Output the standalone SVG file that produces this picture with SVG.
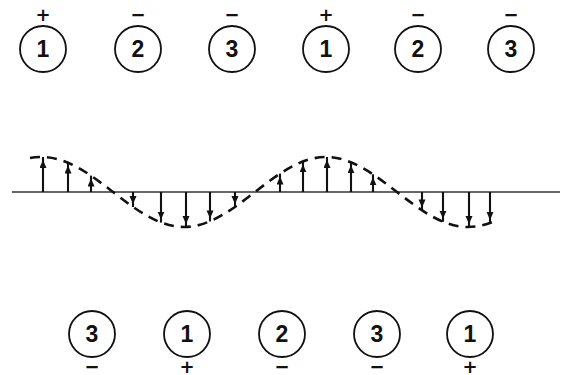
<svg xmlns="http://www.w3.org/2000/svg" width="561" height="375" viewBox="0 0 561 375">
<style>
.c{fill:none;stroke:#111;stroke-width:1.8}
.n{font-family:"Liberation Sans",Arial,sans-serif;font-weight:bold;font-size:23px;fill:#111;text-anchor:middle;dominant-baseline:central}
.s{font-family:"DejaVu Sans",sans-serif;font-weight:bold;font-size:18px;fill:#111;text-anchor:middle;dominant-baseline:central}
.base{stroke:#333;stroke-width:1.4;fill:none}
.wave{stroke:#111;stroke-width:2.6;fill:none;stroke-dasharray:10 7}
.ar{stroke:#111;stroke-width:2.1;marker-end:url(#ah)}
</style>
<defs>
<marker id="ah" markerUnits="userSpaceOnUse" markerWidth="14" markerHeight="8" refX="11" refY="3.5" orient="auto">
<path d="M0,0 L8,3.5 L0,7 z" fill="#111"/>
</marker>
</defs>
<g id="top-1a"><text class="s" x="43" y="14">+</text><circle class="c" cx="43" cy="49" r="23"/><text class="n" x="43" y="49">1</text></g>
<g id="top-2a"><text class="s" x="138" y="14">−</text><circle class="c" cx="138" cy="49" r="23"/><text class="n" x="138" y="49">2</text></g>
<g id="top-3a"><text class="s" x="232" y="14">−</text><circle class="c" cx="232" cy="49" r="23"/><text class="n" x="232" y="49">3</text></g>
<g id="top-1b"><text class="s" x="326" y="14">+</text><circle class="c" cx="326" cy="49" r="23"/><text class="n" x="326" y="49">1</text></g>
<g id="top-2b"><text class="s" x="418" y="14">−</text><circle class="c" cx="418" cy="49" r="23"/><text class="n" x="418" y="49">2</text></g>
<g id="top-3b"><text class="s" x="511" y="14">−</text><circle class="c" cx="511" cy="49" r="23"/><text class="n" x="511" y="49">3</text></g>
<g id="bot-3a"><circle class="c" cx="92" cy="334" r="23"/><text class="n" x="92" y="334">3</text><text class="s" x="92" y="366">−</text></g>
<g id="bot-1a"><circle class="c" cx="187" cy="334" r="23"/><text class="n" x="187" y="334">1</text><text class="s" x="187" y="366">+</text></g>
<g id="bot-2"><circle class="c" cx="282" cy="334" r="23"/><text class="n" x="282" y="334">2</text><text class="s" x="282" y="366">−</text></g>
<g id="bot-3b"><circle class="c" cx="377" cy="334" r="23"/><text class="n" x="377" y="334">3</text><text class="s" x="377" y="366">−</text></g>
<g id="bot-1b"><circle class="c" cx="470" cy="334" r="23"/><text class="n" x="470" y="334">1</text><text class="s" x="470" y="366">+</text></g>
<g id="connectors">
<line class="base" x1="12" y1="192" x2="560" y2="192"/>
<path class="wave" d="M30,158 C34,157.3 38,157 42,157 C67.1,157 89.85,174.1 113,192 C136.15,209.9 158.9,227 184,227 C209.1,227 231.85,209.9 255,192 C278.15,174.1 300.9,157 326,157 C351.1,157 373.850,174.1 397,192 C420.15,209.9 442.9,227 468,227 C478,227 488,224.5 497,220"/>
<line class="ar" x1="43" y1="192" x2="43" y2="157"/>
<line class="ar" x1="68" y1="192" x2="68" y2="162.6"/>
<line class="ar" x1="91" y1="192" x2="91" y2="175.6"/>
<line class="ar" x1="133" y1="192" x2="133" y2="207"/>
<line class="ar" x1="161" y1="192" x2="161" y2="222.6"/>
<line class="ar" x1="186" y1="192" x2="186" y2="227"/>
<line class="ar" x1="210" y1="192" x2="210" y2="221.4"/>
<line class="ar" x1="235" y1="192" x2="235" y2="207"/>
<line class="ar" x1="280" y1="192" x2="280" y2="173.6"/>
<line class="ar" x1="303" y1="192" x2="303" y2="161.4"/>
<line class="ar" x1="327" y1="192" x2="327" y2="157"/>
<line class="ar" x1="351" y1="192" x2="351" y2="162.2"/>
<line class="ar" x1="373" y1="192" x2="373" y2="174.3"/>
<line class="ar" x1="422" y1="192" x2="422" y2="210.4"/>
<line class="ar" x1="443" y1="192" x2="443" y2="221.8"/>
<line class="ar" x1="469" y1="192" x2="469" y2="227"/>
<line class="ar" x1="490" y1="192" x2="490" y2="222.9"/>
</g>
</svg>
